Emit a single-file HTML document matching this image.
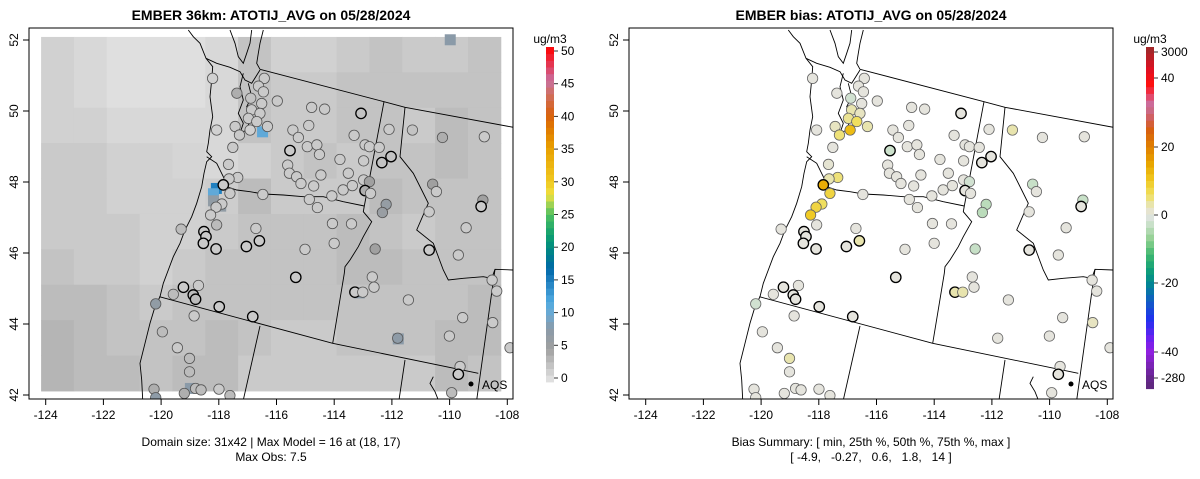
<!DOCTYPE html>
<html><head><meta charset="utf-8"><style>
html,body{margin:0;padding:0;background:#fff;}
svg{display:block;font-family:"Liberation Sans",Arial,sans-serif;}
</style></head><body>
<svg id="chart" width="1200" height="479" viewBox="0 0 1200 479" xmlns="http://www.w3.org/2000/svg">
<defs>
<clipPath id="clipL"><rect x="29" y="28" width="484" height="371"/></clipPath>
<clipPath id="clipR"><rect x="629" y="28" width="484" height="371"/></clipPath>
</defs>
<rect x="0" y="0" width="1200" height="479" fill="#fff"/>
<text x="271" y="20" text-anchor="middle" font-size="14" font-weight="bold">EMBER 36km: ATOTIJ_AVG on 05/28/2024</text>
<text x="871" y="20" text-anchor="middle" font-size="14" font-weight="bold">EMBER bias: ATOTIJ_AVG on 05/28/2024</text>
<g id="leftPanel">
  <g id="rasterL" clip-path="url(#clipL)"></g>
  <g id="bordersL" clip-path="url(#clipL)"></g>
  <g id="stationsL" clip-path="url(#clipL)"></g>
  <rect x="29" y="28" width="484" height="371" fill="none" stroke="#000" stroke-width="1"/>
  <g id="axesL"></g>
  <circle cx="471" cy="384" r="2.5" fill="#000"/>
  <text x="482" y="389" font-size="12">AQS</text>
  <text x="271" y="446" text-anchor="middle" font-size="12">Domain size: 31x42 | Max Model = 16 at (18, 17)</text>
  <text x="271" y="461" text-anchor="middle" font-size="12">Max Obs: 7.5</text>
  <g id="cbarL"></g>
  <text x="550" y="43" text-anchor="middle" font-size="12">ug/m3</text>
</g>
<g id="rightPanel">
  <g id="bordersR" clip-path="url(#clipR)"></g>
  <g id="stationsR" clip-path="url(#clipR)"></g>
  <rect x="629" y="28" width="484" height="371" fill="none" stroke="#000" stroke-width="1"/>
  <g id="axesR"></g>
  <circle cx="1071" cy="384" r="2.5" fill="#000"/>
  <text x="1082" y="389" font-size="12">AQS</text>
  <text x="871" y="446" text-anchor="middle" font-size="12">Bias Summary: [ min, 25th %, 50th %, 75th %, max ]</text>
  <text x="871" y="461" text-anchor="middle" font-size="12" xml:space="preserve">[ -4.9,   -0.27,   0.6,   1.8,   14 ]</text>
  <g id="cbarR"></g>
  <text x="1150" y="43" text-anchor="middle" font-size="12">ug/m3</text>
</g>
</svg>
<script>
// ---- data ----
const xTicks = [-124,-122,-120,-118,-116,-114,-112,-110,-108];
const yTicks = [42,44,46,48,50,52];
const concTickLabels = ['0','5','10','15','20','25','30','35','40','45','50'];
const concTickValues = [0,5,10,15,20,25,30,35,40,45,50];
const biasTickLabels = ['3000','40','20','0','-20','-40','-280'];
const biasTickValues = [3000,40,20,0,-20,-40,-280];
// coarse model field (rows north->south, cols west->east), ug/m3
const gridRows = [
 [1.5,1,0.5,0.5,0.5,1,2.5,1.5,1.5,2,2.5,2,2,2.5],
 [1.5,1,0.5,0.5,0.5,1,2.5,2,2,2.5,2.5,2.5,2.5,2.5],
 [1.5,1.5,1,1,1,1,2.5,2,2,2.5,2.5,2,3,2.5],
 [2,2,1.5,1.5,1.2,1,1.5,2,2.5,2,2.5,2.5,3,2.5],
 [2,2,1.5,1.5,1.5,1.8,3,2,2,2,3,2.5,2.5,2.5],
 [2,2,2,1.5,1.5,2,2.5,2.5,2.5,3,2.5,2,2.5,2.5],
 [2.5,2,2,1.5,2,2.5,2.5,2.5,2.5,3,3,2.5,2.5,2.5],
 [3,3,2.5,2,2.5,2.5,2.5,2.5,2.5,2.5,2.5,2.5,2.5,3],
 [3.5,3,2.5,2.5,2.5,3,2.5,2,2,2.5,2.5,2.5,3,3],
 [3.5,3,3,2.5,3,3,2,2,2,2,2,2,3,2.5]
];
const hotLon = [-118.1,-118.2,-117.95,-116.5,-110.0,-113.15,-111.8,-119.0,-118.2];
const hotLat = [47.75,47.6,47.25,49.35,51.95,44.8,43.5,42.1,47.4];
const hotVal = [15,11,7,11,8,8,8,8,7];
const stationLon = [-118.23,-117.39,-116.44,-116.64,-116.47,-116.91,-116.53,-115.99,-116.88,-116.59,
-116.99,-116.70,-117.45,-116.93,-116.33,-117.30,-118.09,-117.53,-114.80,-114.35,
-113.09,-115.45,-114.90,-115.26,-115.55,-114.95,-114.62,-114.53,-113.82,-113.33,
-112.95,-112.80,-112.46,-112.12,-111.31,-110.27,-108.82,-112.05,-112.37,-113.00,
-115.63,-115.57,-115.32,-115.17,-114.73,-114.48,-113.53,-113.71,-113.39,-113.00,
-112.80,-112.95,-112.76,-114.10,-114.88,-114.60,-116.49,-117.68,-117.36,-117.66,
-117.86,-117.63,-117.91,-118.11,-118.30,-118.09,-118.53,-118.46,-118.55,-118.11,
-119.32,-116.73,-116.61,-117.06,-115.03,-114.08,-113.42,-114.02,-112.22,-112.35,
-110.61,-110.48,-110.73,-108.87,-108.93,-109.45,-110.73,-109.72,-112.60,-112.70,
-112.64,-113.30,-113.03,-115.35,-111.45,-108.55,-108.39,-109.57,-108.53,-111.82,
-110.03,-107.93,-109.66,-109.72,-109.95,-119.24,-118.72,-119.59,-118.90,-118.82,
-118.00,-116.84,-118.87,-120.20,-119.97,-119.45,-119.03,-119.03,-120.26,-118.82,
-118.63,-118.01,-119.21,-117.63,-120.20];
const stationLat = [50.86,50.44,50.86,50.64,50.48,50.30,50.15,50.22,49.97,49.87,
49.73,49.64,49.50,49.40,49.50,49.26,49.40,48.91,50.04,49.99,
49.87,49.40,49.53,49.19,48.82,48.93,48.98,48.71,48.57,49.25,
48.98,48.93,48.91,49.42,49.40,49.19,49.21,48.65,48.48,48.53,
48.41,48.18,48.08,47.89,47.82,48.13,48.18,47.71,47.83,47.99,
47.94,47.69,47.61,47.54,47.44,47.21,47.58,48.43,48.06,48.02,
47.85,47.61,47.31,47.22,47.00,46.72,46.53,46.39,46.20,46.04,
46.60,46.62,46.27,46.11,46.03,46.76,46.75,46.20,47.30,47.07,
47.87,47.66,47.09,47.42,47.24,46.64,46.01,45.87,46.04,45.25,
44.96,44.82,44.82,45.24,44.60,45.16,44.85,44.10,43.96,43.52,
43.58,43.25,42.72,42.50,41.98,44.96,45.01,44.76,44.74,44.62,
44.41,44.13,44.15,44.49,43.70,43.25,42.95,42.57,42.08,42.10,
42.06,42.08,41.96,41.90,41.84];
const stationObs = [1.5,4,2,2,2,2.5,2,2,2,2,
2,2,2,1.5,2,2,1.5,2,2,2,
2.5,2,2,2,2,2,2,2,2,2,
2,2,2,2,2.5,4,2,2.5,2.5,2,
2,2,2,2,2,2,2,2,2,2,
5,4,2,2,2,2,2,2,2,2,
2,2,2,2,2,3,2,2,2,2,
3,2,2,2,2,2,2,2,6.5,6,
5,2,2,5,2,2,2,2,5,2,
2,2,2,2,2,2,2,2,2,7.5,
2,2,2,2,3,2,2,3,3,3,
2,2,2,7,3,2,3,3,4,3,
3,2,4,3,7.5];
const stationBias = [0.4,0.4,0.4,0.4,0.4,-2,0.4,0.4,3,2,
4,6,2,12,3,5,0.4,0.4,0.4,0.4,
0.4,0.4,0.4,0.4,-2.5,0.4,0.4,0.4,0.4,0.4,
0.4,0.4,0.4,0.4,3,0.4,0.4,0.4,0.4,0.4,
0.4,0.4,0.4,0.4,0.4,0.4,0.4,0.4,0.4,0.4,
-2,0.4,0.4,0.4,0.4,0.4,0.4,1,5,3,
14,8,6,8,10,0.4,0.4,0.4,0.4,0.4,
0.4,0.4,3,0.4,0.4,0.4,0.4,0.4,-4,-4,
-3,0.4,0.4,-3,0.4,0.4,0.4,0.4,-3,0.4,
0.4,3,3,0.4,0.4,0.4,0.4,0.4,2,0.4,
0.4,0.4,0.4,0.4,0.4,0.4,0.4,0.4,0.4,0.4,
0.4,0.4,0.4,-2,0.4,0.4,3,0.4,0.4,0.4,
0.4,0.4,0.4,0.4,0.4];
const stationBold = [0,0,0,0,0,0,0,0,0,0, 0,0,0,0,0,0,0,0,0,0,
1,0,0,0,1,0,0,0,0,0, 0,0,0,0,0,0,0,1,1,0, 0,0,0,0,0,0,0,0,0,0,
0,1,0,0,0,0,0,0,0,0, 1,0,0,0,0,0,1,1,1,1, 0,0,1,1,0,0,0,0,0,0,
0,0,0,0,1,0,1,0,0,0, 0,1,0,1,0,0,0,0,0,0, 0,0,0,1,0,1,0,0,1,1,
1,1,0,0,0,0,0,0,0,0, 0,0,0,0,0];

// ---- scales ----
const NS='http://www.w3.org/2000/svg';
function mk(tag, attrs, parent){const e=document.createElementNS(NS,tag);for(const k in attrs)e.setAttribute(k,attrs[k]);parent.appendChild(e);return e;}
function px(lon){return 46+(lon+124)*28.875;}
function py(lat){return 392-(lat-42)*35.4;}
function tickX(lon){return 45.7+(lon+124)*28.85;}
function tickY(lat){return 395-(lat-42)*35.5;}
function hex(c){return [parseInt(c.slice(1,3),16),parseInt(c.slice(3,5),16),parseInt(c.slice(5,7),16)];}
function lerpStops(stops,v){
  if(v<=stops[0][0])return stops[0][1];
  for(let i=1;i<stops.length;i++){if(v<=stops[i][0]){const a=stops[i-1],b=stops[i];const t=(v-a[0])/(b[0]-a[0]);const A=hex(a[1]),B=hex(b[1]);return 'rgb('+A.map((x,j)=>Math.round(x+(B[j]-x)*t)).join(',')+')';}}
  return stops[stops.length-1][1];
}
const concStops=[[0,'#e6e6e6'],[5,'#a0a0a0'],[8,'#8a9aa8'],[10,'#6fa8d0'],[12,'#50aae0'],[15,'#2080c0'],[17,'#0068a8'],[20,'#008a80'],[22,'#10a070'],[25,'#50c060'],[27,'#b8d850'],[28,'#f0e040'],[30,'#f0c820'],[35,'#e8a000'],[38,'#e07800'],[40,'#d86010'],[43,'#d07060'],[45,'#c870a0'],[47,'#e04060'],[50,'#ff0000']];
function concColor(v){return lerpStops(concStops,v);}
const biasKnotV=[-280,-40,-20,0,20,40,3000];
const biasKnotY=[378,352,283,215,147,78,52];
function biasY(v){
  if(v<=biasKnotV[0])return biasKnotY[0];
  for(let i=1;i<biasKnotV.length;i++){if(v<=biasKnotV[i]){const t=(v-biasKnotV[i-1])/(biasKnotV[i]-biasKnotV[i-1]);return biasKnotY[i-1]+t*(biasKnotY[i]-biasKnotY[i-1]);}}
  return biasKnotY[biasKnotY.length-1];
}
const biasStopsY=[[47,'#9a2a2a'],[70,'#e01020'],[85,'#ff1010'],[95,'#e84060'],[105,'#c870a0'],[118,'#d06060'],[130,'#d86010'],[147,'#e08000'],[165,'#e8a800'],[180,'#f0c820'],[195,'#f0e060'],[205,'#e8e4b0'],[215,'#e4e4e4'],[225,'#c8e0c8'],[240,'#90d090'],[255,'#40b870'],[270,'#10a078'],[283,'#008890'],[300,'#1060c0'],[320,'#2030f0'],[340,'#7020f0'],[352,'#9020e0'],[382,'#602880']];
function biasColor(v){return lerpStops(biasStopsY,biasY(v));}

// ---- raster ----
const rasterG=document.getElementById('rasterL');
const lon0=-124.17,lon1=-108.25,lat0=52.03,lat1=42.03;
const nR=gridRows.length,nC=gridRows[0].length;
for(let r=0;r<nR;r++)for(let c=0;c<nC;c++){
  const la=lon0+(lon1-lon0)*c/nC, lb=lon0+(lon1-lon0)*(c+1)/nC;
  const ta=lat0+(lat1-lat0)*r/nR, tb=lat0+(lat1-lat0)*(r+1)/nR;
  const e=mk('rect',{x:px(la),y:py(ta),width:px(lb)-px(la)+0.5,height:py(tb)-py(ta)+0.5,fill:concColor(gridRows[r][c])},rasterG);
  
  
}
for(let i=0;i<hotLon.length;i++){
  const e=mk('rect',{x:px(hotLon[i])-5.5,y:py(hotLat[i])-5.5,width:11,height:11,fill:concColor(hotVal[i])},rasterG);
  
  
}

// ---- borders (reference-grid coordinates) ----
const borderLines=[
 [[475,0],[490,20],[510,40],[528,85],[548,110],[545,150],[540,200],[548,260],[540,300],[535,340],[530,365],[545,380],[530,395],[522,430],[515,470],[500,520],[485,560],[465,600],[450,640],[430,680],[415,720],[400,760],[390,800],[375,830],[360,880],[345,940],[330,1000],[335,1050],[338,1110]],
 [[528,85],[560,100],[600,112],[630,125],[645,150],[665,160],[690,120]],
 [[600,0],[615,40],[625,80],[640,100],[650,70],[660,40],[665,0]],
 [[700,0],[690,40],[685,70],[680,100],[690,118]],
 [[640,130],[630,170],[640,210],[625,250],[640,280],[630,310],[650,300],[660,270],[650,230],[665,200],[655,160]],
 [[530,380],[560,400],[580,440],[590,470],[620,480],[660,485],[700,492],[760,495],[820,500],[880,500],[940,515],[1003,528]],
 [[1062,215],[1003,528]],
 [[690,118],[1062,215],[1125,232],[1450,292]],
 [[1003,528],[1000,545],[1025,575],[1000,620],[985,650],[960,690],[945,710],[943,730],[908,940]],
 [[388,800],[908,940],[1345,1030]],
 [[690,888],[640,1110]],
 [[1125,990],[1107,1110]],
 [[1395,718],[1340,1110]],
 [[1125,232],[1110,380],[1150,430],[1175,480],[1195,520],[1160,600],[1210,640],[1240,720],[1255,750],[1300,745],[1360,740],[1385,745],[1395,718],[1450,720]],
 [[1210,1040],[1200,1060],[1215,1085],[1225,1110]]
];
function drawBorders(id,dx){
  const g=document.getElementById(id);
  borderLines.forEach(l=>{
    const e=mk('polyline',{points:l.map(p=>(30+dx+p[0]/3).toFixed(1)+','+(30+p[1]/3).toFixed(1)).join(' '),fill:'none',stroke:'#000','stroke-width':0.9},g);
    
    
  });
}
drawBorders('bordersL',0);drawBorders('bordersR',600);

// ---- stations ----
const sL=document.getElementById('stationsL'),sR=document.getElementById('stationsR');
for(let i=0;i<stationLon.length;i++){
  const b=stationBold[i];
  const e=mk('circle',{cx:px(stationLon[i]),cy:py(stationLat[i]),r:5.2,fill:concColor(stationObs[i]),stroke:b?'#000':'#555','stroke-width':b?1.3:0.8},sL);
  
  
  const f=mk('circle',{cx:px(stationLon[i])+600,cy:py(stationLat[i]),r:5.2,fill:biasColor(stationBias[i]),stroke:b?'#000':'#666','stroke-width':b?1.3:0.8},sR);
  
  
}

// ---- axes ----
function drawAxes(id,dx){
  const g=document.getElementById(id);
  xTicks.forEach(v=>{
    const x=tickX(v)+dx;
    const t=mk('line',{x1:x,y1:399,x2:x,y2:405,stroke:'#000'},g);
    
    
    const l=mk('text',{x:x,y:419,'text-anchor':'middle','font-size':12},g);l.textContent=v;
    
    
  });
  yTicks.forEach(v=>{
    const y=tickY(v);
    const t=mk('line',{x1:29+dx,y1:y,x2:23+dx,y2:y,stroke:'#000'},g);
    
    
    const l=mk('text',{x:0,y:0,'text-anchor':'middle','font-size':12,transform:'translate('+(18+dx)+','+y+') rotate(-90)'},g);l.textContent=v;
    
    
  });
}
drawAxes('axesL',0);drawAxes('axesR',600);

// ---- colorbars ----
const cL=document.getElementById('cbarL');
for(let k=0;k<50;k++){
  const y0=382-(k+1)*(335/50);
  const e=mk('rect',{x:546,y:y0,width:8,height:335/50+0.4,fill:concColor(k+0.5)},cL);
  
  
}
concTickValues.forEach((v,i)=>{
  const y=378-v*(327/50);
  const t=mk('line',{x1:554,y1:y,x2:558,y2:y,stroke:'#333'},cL);
  
  
  const l=mk('text',{x:561,y:y+4,'font-size':12},cL);l.textContent=concTickLabels[i];
  
  
});
const cR=document.getElementById('cbarR');
for(let y=47;y<382;y+=6.7){
  const e=mk('rect',{x:1146,y:y,width:8,height:7.1,fill:lerpStops(biasStopsY,y+3.3)},cR);
  
  
}
biasTickValues.forEach((v,i)=>{
  const y=biasY(v);
  const t=mk('line',{x1:1154,y1:y,x2:1158,y2:y,stroke:'#333'},cR);
  
  
  const l=mk('text',{x:1161,y:y+4,'font-size':12},cR);l.textContent=biasTickLabels[i];
  
  
});
</script>
</body></html>
